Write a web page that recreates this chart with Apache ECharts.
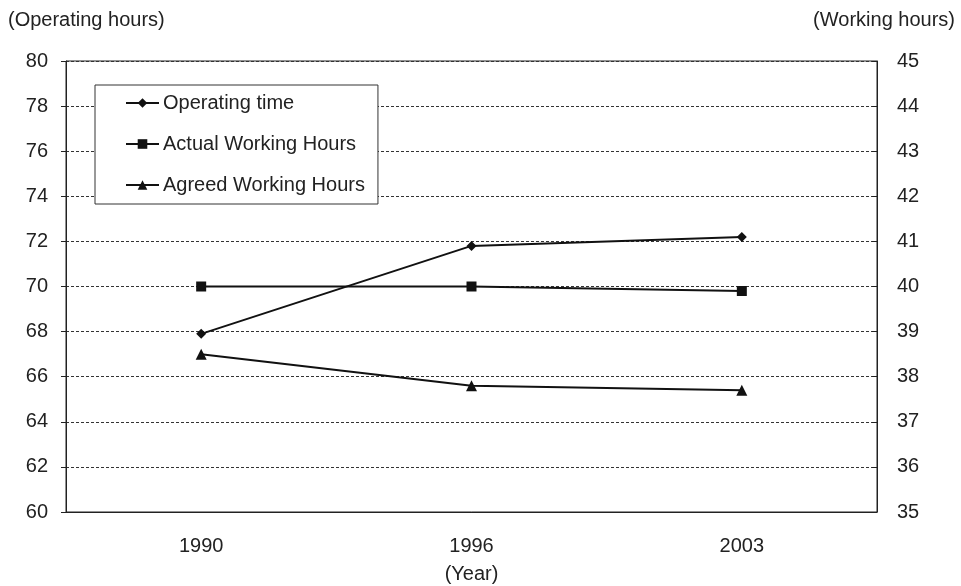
<!DOCTYPE html>
<html><head><meta charset="utf-8">
<script src="https://cdn.jsdelivr.net/npm/echarts@6/dist/echarts.min.js"></script>
<style>html,body{margin:0;padding:0;background:#fff}#c{width:961px;height:586px}</style>
</head><body><div id="c"></div>
<script>
const years = ['1990', '1996', '2003'];
const operatingTime = [67.9, 71.8, 72.2];
const actualWorking = [40.0, 40.0, 39.9];
const agreedWorking = [38.5, 37.8, 37.7];
const seriesNames = ['Operating time', 'Actual Working Hours', 'Agreed Working Hours'];

const F = 'Liberation Sans, Arial, sans-serif';
const FS = 20;
const chart = echarts.init(document.getElementById('c'));
const lineStyle = {color: '#111', width: 2};
chart.setOption({
  animation: false,
  textStyle: {fontFamily: F},
  grid: {left: 66, right: 84, top: 61, bottom: 74, show: true, borderColor: '#222', borderWidth: 1,
         backgroundColor: 'transparent', outerBoundsMode: 'none', containLabel: false},
  graphic: [
    {type: 'text', left: 8, top: 10, style: {text: '(Operating hours)', font: FS + 'px ' + F, fill: '#222'}},
    {type: 'text', right: 6, top: 10, style: {text: '(Working hours)', font: FS + 'px ' + F, fill: '#222'}}
  ],
  legend: {
    orient: 'vertical', left: 95, top: 85,
    padding: [8, 13, 9, 30],
    backgroundColor: '#fff', borderColor: '#333', borderWidth: 1,
    itemWidth: 33, itemHeight: 12, itemGap: 21,
    textStyle: {fontFamily: F, fontSize: FS, lineHeight: 20, color: '#222', padding: [0, 0, 0, -1]},
    data: seriesNames
  },
  xAxis: {
    type: 'category', data: years, boundaryGap: true,
    name: '(Year)', nameLocation: 'middle', nameGap: 52,
    nameTextStyle: {fontFamily: F, fontSize: FS, color: '#222'},
    axisLine: {lineStyle: {color: '#222', width: 1}},
    axisTick: {inside: true, length: 6, lineStyle: {color: '#222'}},
    axisLabel: {fontFamily: F, fontSize: FS, color: '#222', margin: 24}
  },
  yAxis: [
    {type: 'value', min: 60, max: 80, interval: 2,
     axisLine: {show: true, lineStyle: {color: '#222'}},
     axisTick: {show: true, length: 5, lineStyle: {color: '#222'}},
     axisLabel: {fontFamily: F, fontSize: FS, color: '#222', margin: 18},
     splitLine: {show: true, lineStyle: {color: '#333', type: [3, 2], width: 1}}},
    {type: 'value', min: 35, max: 45, interval: 1, position: 'right',
     axisLine: {show: true, lineStyle: {color: '#222'}},
     axisTick: {show: true, inside: true, length: 5, lineStyle: {color: '#222'}},
     axisLabel: {fontFamily: F, fontSize: FS, color: '#222', margin: 20},
     splitLine: {show: false}}
  ],
  series: [
    {name: seriesNames[0], type: 'line', yAxisIndex: 0, data: operatingTime,
     symbol: 'diamond', symbolSize: 10, lineStyle: lineStyle, itemStyle: {color: '#111'}},
    {name: seriesNames[1], type: 'line', yAxisIndex: 1, data: actualWorking,
     symbol: 'rect', symbolSize: 10, lineStyle: lineStyle, itemStyle: {color: '#111'}},
    {name: seriesNames[2], type: 'line', yAxisIndex: 1, data: agreedWorking,
     symbol: 'triangle', symbolSize: 11, lineStyle: lineStyle, itemStyle: {color: '#111'}}
  ]
});
</script></body></html>
